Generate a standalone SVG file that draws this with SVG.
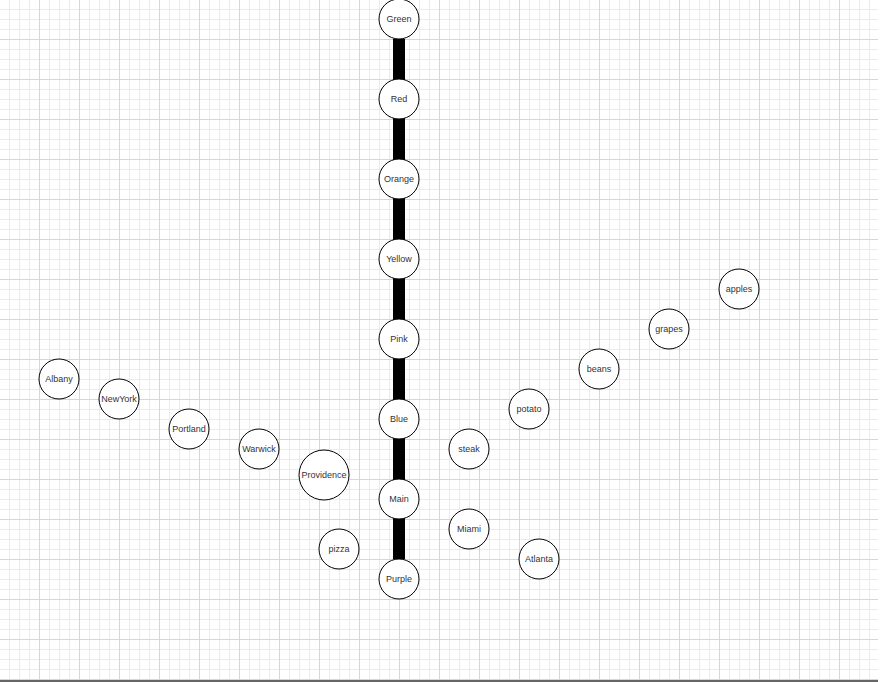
<svg xmlns="http://www.w3.org/2000/svg" width="880" height="682" viewBox="0 0 880 682">
<defs>
<pattern id="grid" x="0" y="0" width="40" height="40" patternUnits="userSpaceOnUse">
<path d="M9.5 0V40M19.5 0V40M29.5 0V40M0 9.5H40M0 19.5H40M0 29.5H40" stroke="#ebebeb" stroke-width="1" fill="none"/>
<path d="M39.5 0V40M0 39.5H40" stroke="#d6d6d6" stroke-width="1" fill="none"/>
</pattern>
</defs>
<style>
.n circle{fill:#fff;stroke:#000;stroke-width:1}
.n text{font-family:"Liberation Sans",Arial,sans-serif;font-size:9px;fill:#333;text-anchor:middle;dominant-baseline:central}
.e{stroke:#000;stroke-width:12;fill:none}
</style>
<rect x="0" y="0" width="880" height="682" fill="#fff"/>
<rect x="0" y="0" width="878" height="680" fill="url(#grid)"/>
<rect x="0" y="680" width="878" height="2" fill="#666"/>
<g id="connectors">
<path class="e" d="M399 39V559"/>
</g>
<g id="Green" class="n"><circle cx="399" cy="19" r="20"/><text x="399" y="19">Green</text></g>
<g id="Red" class="n"><circle cx="399" cy="99" r="20"/><text x="399" y="99">Red</text></g>
<g id="Orange" class="n"><circle cx="399" cy="179" r="20"/><text x="399" y="179">Orange</text></g>
<g id="Yellow" class="n"><circle cx="399" cy="259" r="20"/><text x="399" y="259">Yellow</text></g>
<g id="Pink" class="n"><circle cx="399" cy="339" r="20"/><text x="399" y="339">Pink</text></g>
<g id="Blue" class="n"><circle cx="399" cy="419" r="20"/><text x="399" y="419">Blue</text></g>
<g id="Main" class="n"><circle cx="399" cy="499" r="20"/><text x="399" y="499">Main</text></g>
<g id="Purple" class="n"><circle cx="399" cy="579" r="20"/><text x="399" y="579">Purple</text></g>
<g id="Albany" class="n"><circle cx="59" cy="379" r="20"/><text x="59" y="379">Albany</text></g>
<g id="NewYork" class="n"><circle cx="119" cy="399" r="20"/><text x="119" y="399">NewYork</text></g>
<g id="Portland" class="n"><circle cx="189" cy="429" r="20"/><text x="189" y="429">Portland</text></g>
<g id="Warwick" class="n"><circle cx="259" cy="449" r="20"/><text x="259" y="449">Warwick</text></g>
<g id="Providence" class="n"><circle cx="324" cy="475" r="25"/><text x="324" y="475">Providence</text></g>
<g id="pizza" class="n"><circle cx="339" cy="549" r="20"/><text x="339" y="549">pizza</text></g>
<g id="steak" class="n"><circle cx="469" cy="449" r="20"/><text x="469" y="449">steak</text></g>
<g id="potato" class="n"><circle cx="529" cy="409" r="20"/><text x="529" y="409">potato</text></g>
<g id="beans" class="n"><circle cx="599" cy="369" r="20"/><text x="599" y="369">beans</text></g>
<g id="grapes" class="n"><circle cx="669" cy="329" r="20"/><text x="669" y="329">grapes</text></g>
<g id="apples" class="n"><circle cx="739" cy="289" r="20"/><text x="739" y="289">apples</text></g>
<g id="Miami" class="n"><circle cx="469" cy="529" r="20"/><text x="469" y="529">Miami</text></g>
<g id="Atlanta" class="n"><circle cx="539" cy="559" r="20"/><text x="539" y="559">Atlanta</text></g>
</svg>
